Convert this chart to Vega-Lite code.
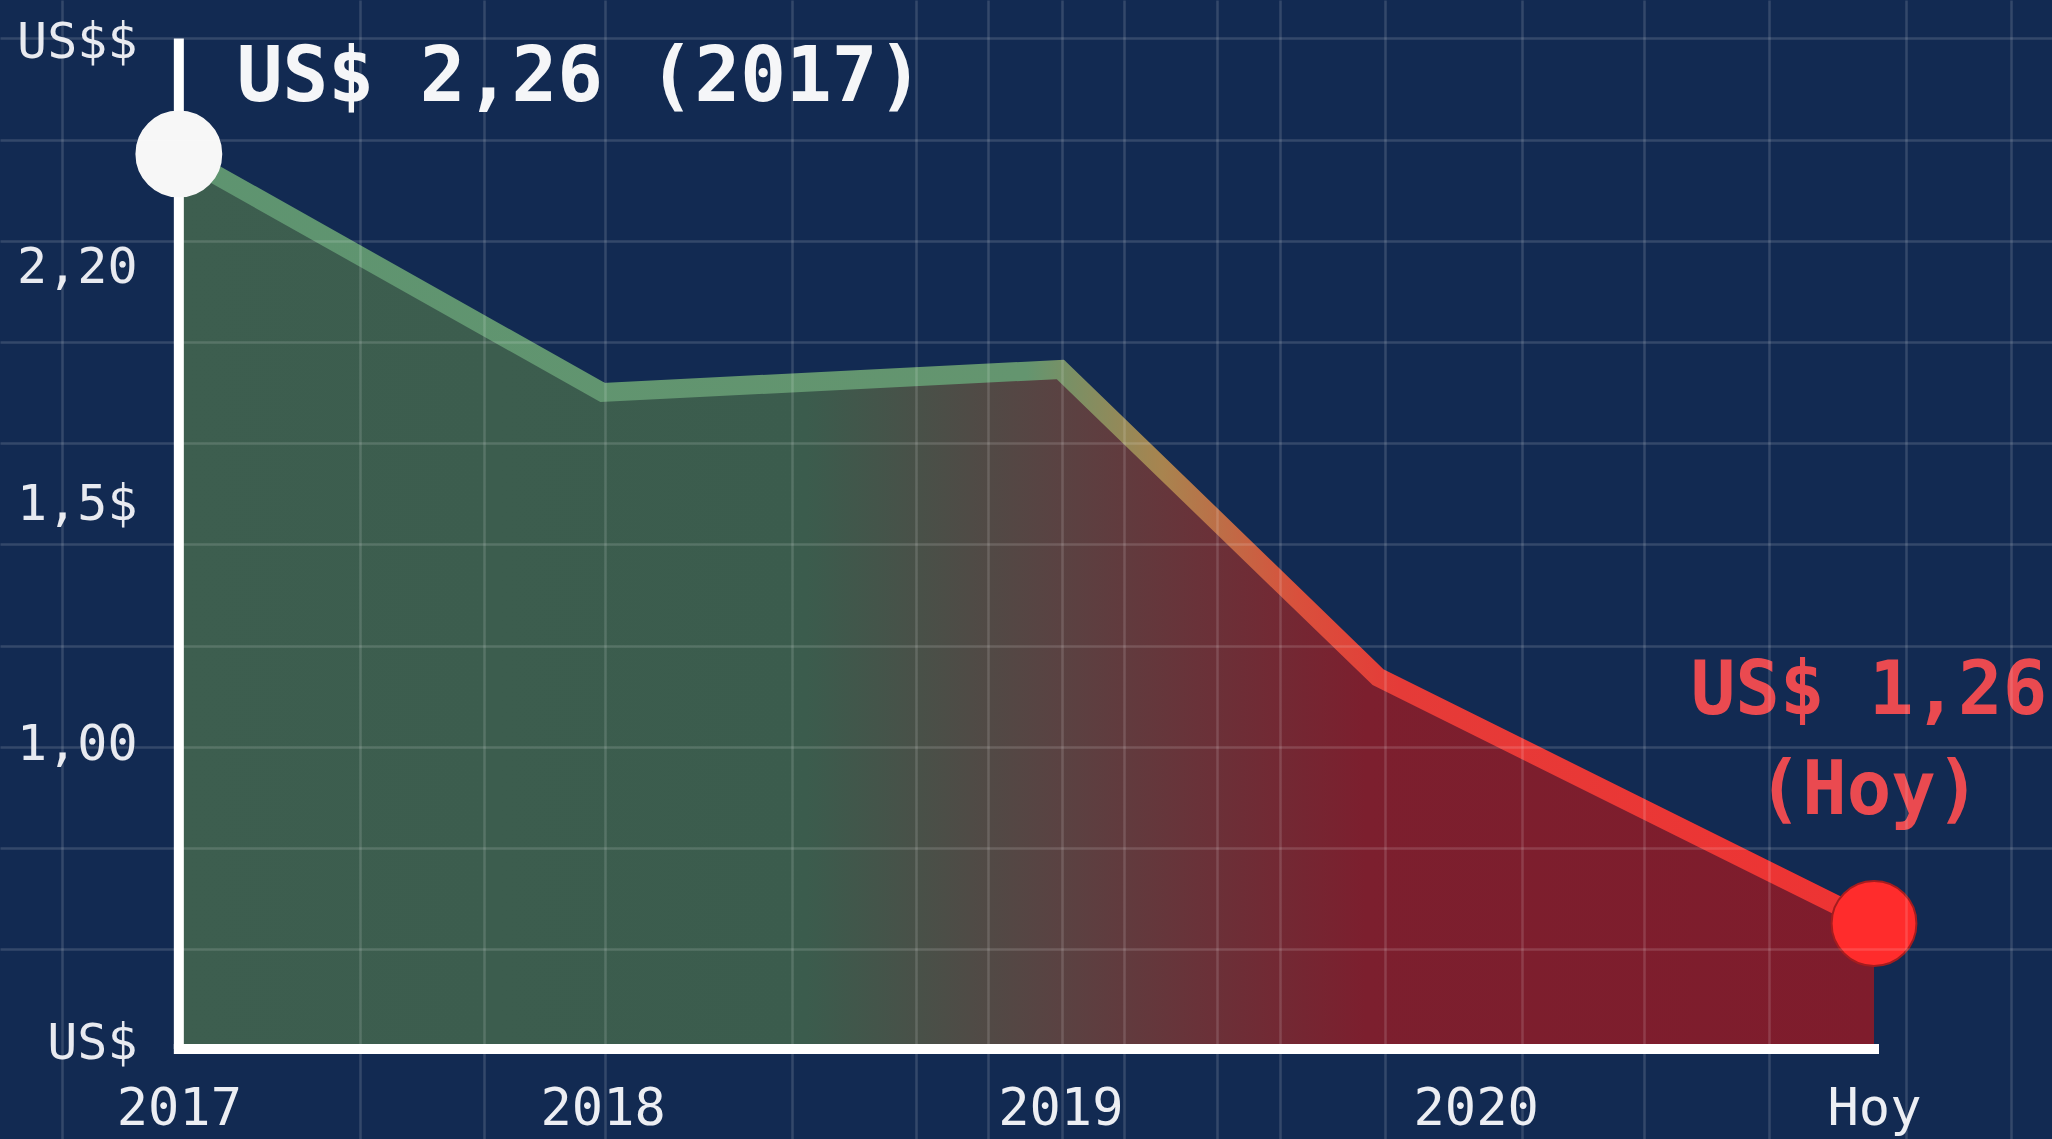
{
  "$schema": "https://vega.github.io/schema/vega-lite/v6.json",
  "width": 2052,
  "height": 1139,
  "autosize": "none",
  "padding": 0,
  "background": "#122a52",
  "config": {"view": {"stroke": null}, "font": "DejaVu Sans Mono"},
  "data": {
    "values": [
      {"periodo": "2017", "t": 2017.0, "precio": 2.26, "etiqueta": "US$ 2,26 (2017)"},
      {"periodo": "2018", "t": 2018.0, "precio": 1.95},
      {"periodo": "2019", "t": 2019.08, "precio": 1.98},
      {"periodo": "2020", "t": 2019.83, "precio": 1.58},
      {"periodo": "Hoy", "t": 2021.0, "precio": 1.26, "etiqueta": "US$ 1,26\n(Hoy)"}
    ]
  },
  "resolve": {"axis": {"x": "independent", "y": "independent"}},
  "layer": [
    {
      "mark": {
        "type": "area",
        "color": {
          "gradient": "linear", "x1": 0, "y1": 0, "x2": 1, "y2": 0,
          "stops": [
            {"offset": 0, "color": "#3d5e4f"},
            {"offset": 0.37, "color": "#3b5c4d"},
            {"offset": 0.52, "color": "#5a4242"},
            {"offset": 0.7, "color": "#7c1f2e"},
            {"offset": 1, "color": "#7f1c2c"}
          ]
        }
      },
      "encoding": {
        "x": {
          "field": "t", "type": "quantitative",
          "scale": {"domain": [2016.578, 2021.42], "nice": false, "zero": false},
          "axis": {
            "orient": "bottom", "title": null, "labels": false, "ticks": false, "domain": false,
            "grid": true, "gridColor": "#ffffff", "gridOpacity": 0.14, "gridWidth": 2.5, "zindex": 1,
            "values": [2016.724, 2017.427, 2017.72, 2018.006, 2018.447, 2018.739, 2018.909, 2019.084, 2019.23, 2019.45, 2019.598, 2019.846, 2020.169, 2020.457, 2020.752, 2021.075, 2021.323]
          }
        },
        "y": {
          "field": "precio", "type": "quantitative",
          "scale": {"domain": [0.98, 2.46], "nice": false, "zero": false},
          "axis": {
            "orient": "left", "title": null, "labels": false, "ticks": false, "domain": false,
            "grid": true, "gridColor": "#ffffff", "gridOpacity": 0.14, "gridWidth": 2.5, "zindex": 1,
            "values": [1.2265, 1.358, 1.4895, 1.621, 1.7525, 1.884, 2.0155, 2.147, 2.2785, 2.41]
          }
        },
        "y2": {"datum": 1.097}
      }
    },
    {
      "mark": {
        "type": "line",
        "strokeWidth": 19,
        "strokeJoin": "miter",
        "strokeCap": "butt",
        "color": {
          "gradient": "linear", "x1": 0, "y1": 0, "x2": 1, "y2": 0,
          "stops": [
            {"offset": 0, "color": "#5e9470"},
            {"offset": 0.5, "color": "#64956f"},
            {"offset": 0.58, "color": "#a8844f"},
            {"offset": 0.66, "color": "#d9503c"},
            {"offset": 0.72, "color": "#e53b38"},
            {"offset": 1, "color": "#ee3333"}
          ]
        }
      },
      "encoding": {
        "x": {
          "field": "t", "type": "quantitative",
          "scale": {"domain": [2016.578, 2021.42], "nice": false, "zero": false},
          "axis": {
            "orient": "bottom", "offset": -90, "title": null, "grid": false, "ticks": false, "tickSize": 0, "domain": false,
            "values": [2017, 2018, 2019.08, 2020.06, 2021],
            "labelExpr": "datum.value < 2017.5 ? '2017' : datum.value < 2018.5 ? '2018' : datum.value < 2019.5 ? '2019' : datum.value < 2020.5 ? '2020' : 'Hoy'",
            "labelFont": "DejaVu Sans Mono", "labelFontSize": 52, "labelColor": "#eceef3",
            "labelPadding": 59, "labelBaseline": "middle", "labelFlush": false, "labelOverlap": false
          }
        },
        "y": {
          "field": "precio", "type": "quantitative",
          "scale": {"domain": [0.98, 2.46], "nice": false, "zero": false},
          "axis": {
            "orient": "left", "offset": -178, "title": null, "grid": false, "ticks": false, "tickSize": 0, "domain": false,
            "values": [1.1047, 1.492, 1.805, 2.113, 2.405],
            "labelExpr": "datum.value > 2.3 ? 'US$$' : datum.value > 2.0 ? '2,20' : datum.value > 1.7 ? '1,5$' : datum.value > 1.3 ? '1,00' : 'US$'",
            "labelFont": "DejaVu Sans Mono", "labelFontSize": 50, "labelColor": "#e8eaf0",
            "labelPadding": 41, "labelFlush": false, "labelOverlap": false
          }
        }
      }
    },
    {
      "mark": {"type": "rule", "color": "#ffffff", "strokeWidth": 10, "strokeCap": "square"},
      "encoding": {
        "x": {"aggregate": "min", "field": "t", "type": "quantitative", "axis": null},
        "x2": {"aggregate": "max", "field": "t"},
        "y": {"datum": 1.097, "axis": null}
      }
    },
    {
      "mark": {"type": "rule", "color": "#ffffff", "strokeWidth": 10, "strokeCap": "butt"},
      "encoding": {
        "x": {"aggregate": "min", "field": "t", "type": "quantitative", "axis": null},
        "y": {"datum": 1.097, "axis": null},
        "y2": {"datum": 2.41}
      }
    },
    {
      "transform": [{"filter": "datum.periodo == '2017' || datum.periodo == 'Hoy'"}],
      "mark": {"type": "point", "shape": "circle", "filled": true, "size": 7200, "opacity": 1, "strokeWidth": 2},
      "encoding": {
        "x": {"field": "t", "type": "quantitative", "axis": null},
        "y": {"field": "precio", "type": "quantitative", "axis": null},
        "fill": {"field": "periodo", "type": "nominal", "scale": {"domain": ["2017", "Hoy"], "range": ["#f7f7f7", "#ff2c2c"]}, "legend": null},
        "stroke": {"field": "periodo", "type": "nominal", "scale": {"domain": ["2017", "Hoy"], "range": ["#f7f7f7", "#a51c1e"]}, "legend": null}
      }
    },
    {
      "transform": [{"filter": "datum.periodo == '2017'"}],
      "mark": {"type": "text", "align": "left", "baseline": "alphabetic", "dx": 58, "dy": -53, "fontSize": 76, "fontWeight": "bold", "font": "DejaVu Sans Mono", "color": "#f5f6f8"},
      "encoding": {
        "x": {"field": "t", "type": "quantitative", "axis": null},
        "y": {"field": "precio", "type": "quantitative", "axis": null},
        "text": {"field": "etiqueta"}
      }
    },
    {
      "transform": [{"filter": "datum.periodo == 'Hoy'"}],
      "mark": {"type": "text", "align": "center", "baseline": "alphabetic", "dx": -5, "dy": -210, "fontSize": 74, "lineHeight": 100, "lineBreak": "\n", "fontWeight": "bold", "font": "DejaVu Sans Mono", "color": "#ea4a50"},
      "encoding": {
        "x": {"field": "t", "type": "quantitative", "axis": null},
        "y": {"field": "precio", "type": "quantitative", "axis": null},
        "text": {"field": "etiqueta"}
      }
    }
  ]
}
